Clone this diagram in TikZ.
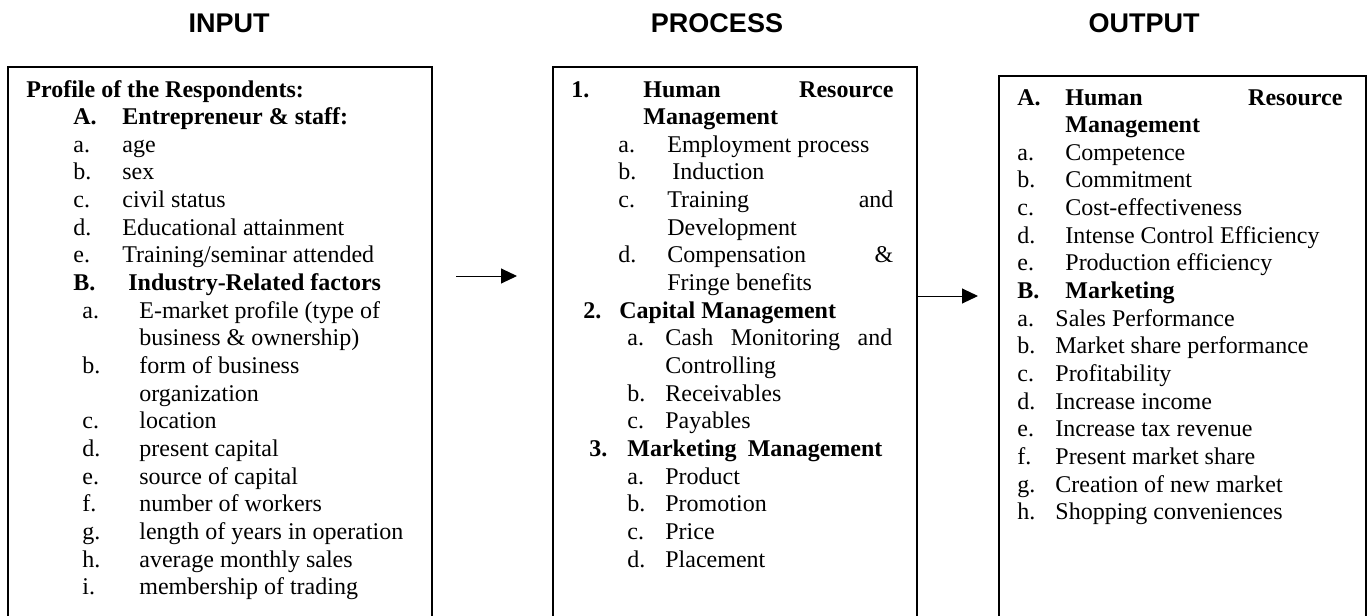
\documentclass[tikz,border=0pt]{standalone}
\usepackage{fontspec}
\setmainfont{Liberation Serif}
\newfontfamily\headfont{Liberation Sans}
\usetikzlibrary{arrows.meta}

% one text line: name, x, row number, content (rows counted from \rowbase)
\newcommand\rowbase{97}
\newcommand\rowstep{27.65}
\newcommand\ent[4]{\node[txt] (#1) at (#2,{\rowbase+#3*\rowstep}) {#4};}

\begin{document}
\begin{tikzpicture}[x=0.5pt,y=-0.5pt,
  txt/.style={anchor=base west, inner sep=0pt, font=\fontsize{12}{13.8}\selectfont},
  head/.style={anchor=base, inner sep=0pt, font=\headfont\bfseries\fontsize{13.5}{16}\selectfont},
  frame/.style={draw, line width=1pt, anchor=north west, inner sep=0pt},
  flow/.style={line width=0.5pt, -{Triangle[length=8pt,width=7.5pt]}}]
\useasboundingbox (0,0) rectangle (1367,616);

% column titles
\node[head] (hin)   at (229,32.5)  {INPUT};
\node[head] (hproc) at (717,32.5)  {PROCESS};
\node[head] (hout)  at (1144,32.5) {OUTPUT};

% frames (open towards the page bottom)
\node[frame, minimum width=212pt, minimum height=287pt]   (inbox)   at (7,66)   {};
\node[frame, minimum width=182pt, minimum height=287pt]   (procbox) at (552,66) {};
\node[frame, minimum width=183.5pt, minimum height=282.5pt] (outbox) at (998,75) {};

% ---- input column
\renewcommand\rowbase{97}
\ent{in0}{26}{0}{\bfseries Profile of the Respondents:}
\ent{in1l}{73}{1}{\bfseries A.}      \ent{in1}{122}{1}{\bfseries Entrepreneur \& staff:}
\ent{in2l}{73}{2}{a.}                \ent{in2}{122}{2}{age}
\ent{in3l}{73}{3}{b.}                \ent{in3}{122}{3}{sex}
\ent{in4l}{73}{4}{c.}                \ent{in4}{122}{4}{civil status}
\ent{in5l}{73}{5}{d.}                \ent{in5}{122}{5}{Educational attainment}
\ent{in6l}{73}{6}{e.}                \ent{in6}{122}{6}{Training/seminar attended}
\ent{in7l}{73}{7}{\bfseries B.}      \ent{in7}{128}{7}{\bfseries Industry-Related factors}
\ent{in8l}{82}{8}{a.}                \ent{in8}{139}{8}{E-market profile (type of}
                                     \ent{in9}{139}{9}{business \& ownership)}
\ent{in10l}{82}{10}{b.}              \ent{in10}{139}{10}{form of business}
                                     \ent{in11}{139}{11}{organization}
\ent{in12l}{82}{12}{c.}              \ent{in12}{139}{12}{location}
\ent{in13l}{82}{13}{d.}              \ent{in13}{139}{13}{present capital}
\ent{in14l}{82}{14}{e.}              \ent{in14}{139}{14}{source of capital}
\ent{in15l}{82}{15}{f.}              \ent{in15}{139}{15}{number of workers}
\ent{in16l}{82}{16}{g.}              \ent{in16}{139}{16}{length of years in operation}
\ent{in17l}{82}{17}{h.}              \ent{in17}{139}{17}{average monthly sales}
\ent{in18l}{82}{18}{i.}              \ent{in18}{139}{18}{membership of trading}

% ---- process column
\renewcommand\rowbase{97}
\ent{pr0l}{571}{0}{\bfseries 1.}     \ent{pr0}{643}{0}{\makebox[125pt][s]{\bfseries Human Resource}}
                                     \ent{pr1}{643}{1}{\bfseries Management}
\ent{pr2l}{618}{2}{a.}               \ent{pr2}{667}{2}{Employment process}
\ent{pr3l}{618}{3}{b.}               \ent{pr3}{672}{3}{Induction}
\ent{pr4l}{618}{4}{c.}               \ent{pr4}{667}{4}{\makebox[113pt][s]{Training and}}
                                     \ent{pr5}{667}{5}{Development}
\ent{pr6l}{618}{6}{d.}               \ent{pr6}{667}{6}{\makebox[113pt][s]{Compensation \&}}
                                     \ent{pr7}{667}{7}{Fringe benefits}
\ent{pr8l}{583}{8}{\bfseries 2.}     \ent{pr8}{619}{8}{\bfseries Capital Management}
\ent{pr9l}{627}{9}{a.}               \ent{pr9}{665}{9}{\makebox[113.5pt][s]{Cash Monitoring and}}
                                     \ent{pr10}{665}{10}{Controlling}
\ent{pr11l}{627}{11}{b.}             \ent{pr11}{665}{11}{Receivables}
\ent{pr12l}{627}{12}{c.}             \ent{pr12}{665}{12}{Payables}
\ent{pr13l}{589}{13}{\bfseries 3.}   \ent{pr13}{627}{13}{\makebox[127.5pt][s]{\bfseries Marketing Management}}
\ent{pr14l}{627}{14}{a.}             \ent{pr14}{665}{14}{Product}
\ent{pr15l}{627}{15}{b.}             \ent{pr15}{665}{15}{Promotion}
\ent{pr16l}{627}{16}{c.}             \ent{pr16}{665}{16}{Price}
\ent{pr17l}{627}{17}{d.}             \ent{pr17}{665}{17}{Placement}

% ---- output column
\renewcommand\rowbase{105}
\ent{ou0l}{1017}{0}{\bfseries A.}    \ent{ou0}{1065}{0}{\makebox[138.5pt][s]{\bfseries Human Resource}}
                                     \ent{ou1}{1065}{1}{\bfseries Management}
\ent{ou2l}{1017}{2}{a.}              \ent{ou2}{1065}{2}{Competence}
\ent{ou3l}{1017}{3}{b.}              \ent{ou3}{1065}{3}{Commitment}
\ent{ou4l}{1017}{4}{c.}              \ent{ou4}{1065}{4}{Cost-effectiveness}
\ent{ou5l}{1017}{5}{d.}              \ent{ou5}{1065}{5}{Intense Control Efficiency}
\ent{ou6l}{1017}{6}{e.}              \ent{ou6}{1065}{6}{Production efficiency}
\ent{ou7l}{1017}{7}{\bfseries B.}    \ent{ou7}{1065}{7}{\bfseries Marketing}
\ent{ou8l}{1017}{8}{a.}              \ent{ou8}{1055}{8}{Sales Performance}
\ent{ou9l}{1017}{9}{b.}              \ent{ou9}{1055}{9}{Market share performance}
\ent{ou10l}{1017}{10}{c.}            \ent{ou10}{1055}{10}{Profitability}
\ent{ou11l}{1017}{11}{d.}            \ent{ou11}{1055}{11}{Increase income}
\ent{ou12l}{1017}{12}{e.}            \ent{ou12}{1055}{12}{Increase tax revenue}
\ent{ou13l}{1017}{13}{f.}            \ent{ou13}{1055}{13}{Present market share}
\ent{ou14l}{1017}{14}{g.}            \ent{ou14}{1055}{14}{Creation of new market}
\ent{ou15l}{1017}{15}{h.}            \ent{ou15}{1055}{15}{Shopping conveniences}

% ---- flow arrows
\coordinate (a1s) at (456,276);
\coordinate (a1e) at (517,276);
\draw[flow] (a1s) -- (a1e);
\coordinate (a2e) at (978,296);
\draw[flow] (procbox.east |- a2e) -- (a2e);
\end{tikzpicture}
\end{document}
